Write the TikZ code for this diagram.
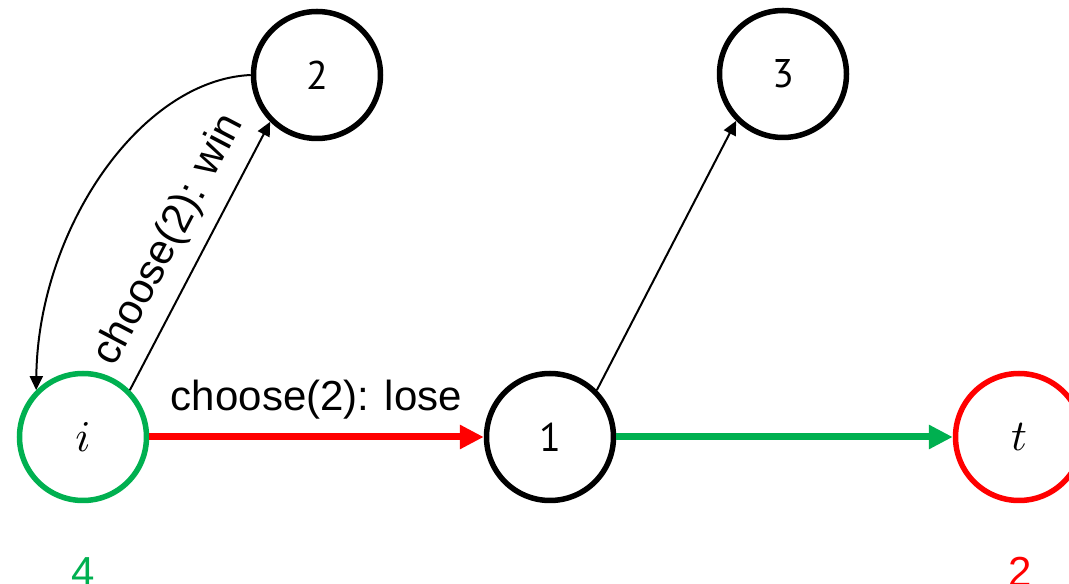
\documentclass[tikz,border=0pt]{standalone}
\usepackage{graphicx}
\usepackage{fontspec}
\setmainfont{Liberation Sans}
\newfontfamily\statefont{PT Sans}
\usetikzlibrary{arrows.meta}
\definecolor{okgreen}{HTML}{00B050}
\definecolor{badred}{HTML}{FF0000}
\newcommand{\bigmath}[1]{\scalebox{4.4}{\fontsize{10}{12}\selectfont$#1$}}
\begin{document}
\begin{tikzpicture}[x=1pt,y=1pt,
  state/.style={circle,draw=black,line width=5.5pt,minimum size=127pt,inner sep=0pt,
    font=\statefont\fontsize{40}{46}\selectfont},
  thin/.style={draw=black,line width=2pt,-{Triangle[length=14pt,width=13pt]}},
  thick/.style={line width=7pt,-{Triangle[length=24pt,width=23pt]}},
  lbl/.style={font=\fontsize{42}{50}\selectfont,inner sep=2pt}
]
\useasboundingbox (0,0) rectangle (1069,584);
\clip (0,0) rectangle (1069,584);

% states
\node[state,draw=okgreen] (i) at (83,147) {\bigmath{i}};
\node[state] (two) at (317,509) {2};
\node[state] (three) at (783,510) {3};
\node[state] (one) at (550,147) {1};
\node[state,draw=badred] (t) at (1019,147) {\bigmath{t}};

% transitions
\draw[thin] (two.west) .. controls (140,504) and (38,354) .. (i.135);
\draw[thin] (i.45) -- node[lbl,sloped,above=12pt] (win) {choose(2): win} (two.225);
\draw[thin] (one.45) -- (three.225);
\draw[thick,draw=badred,fill=badred] (i.east) -- node[lbl,anchor=base,yshift=26pt] (lose) {choose(2): lose} (one.west);
\draw[thick,draw=okgreen,fill=okgreen] (one.east) -- (t.west);

% values under the end states
\node[lbl,text=okgreen,anchor=base] (vi) at (83,-2) {4};
\node[lbl,text=badred,anchor=base] (vt) at (1020,-2) {2};
\end{tikzpicture}
\end{document}
